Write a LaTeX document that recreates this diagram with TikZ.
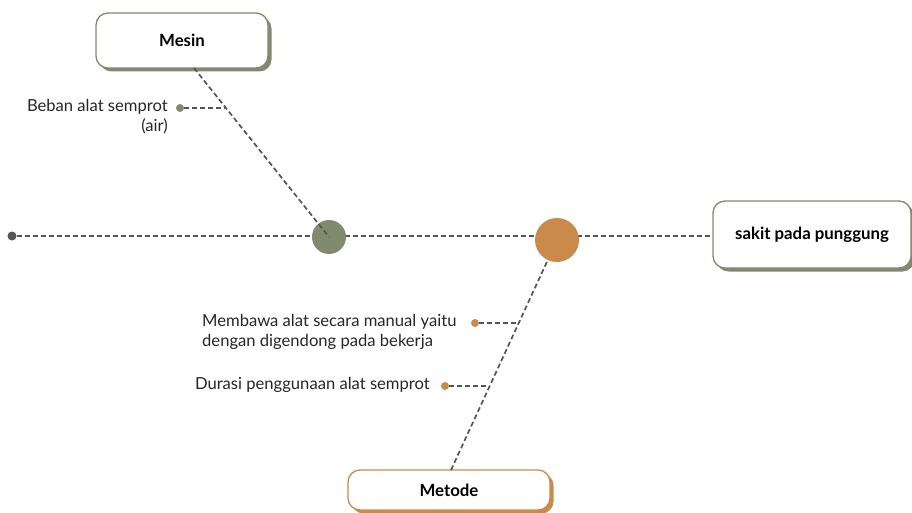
\documentclass[tikz,border=0pt]{standalone}
\usepackage{fontspec}
\setmainfont{Lato}
\usetikzlibrary{shadows,calc}

\definecolor{sage}{HTML}{7F8B6C}
\definecolor{clay}{HTML}{C98A4B}
\definecolor{ink}{HTML}{555555}

\begin{document}
\begin{tikzpicture}[x=1pt,y=-1pt,
    box/.style={draw=#1,line width=1.3pt,rounded corners=12pt,fill=white,
      drop shadow={shadow xshift=3.5pt,shadow yshift=-3.5pt,fill=#1,opacity=1},
      font=\bfseries\fontsize{16.8}{18}\selectfont,text=black},
    link/.style={ink,line width=1.7pt,dash pattern=on 5pt off 3pt},
    dot/.style={circle,fill=#1,inner sep=0pt,minimum size=8pt},
    lbl/.style={font=\fontsize{16.6}{20}\selectfont,text=black!85,inner sep=0pt}]
  \useasboundingbox (0,0) rectangle (912,513);

  % head and spine
  \node[box=sage,minimum width=198pt,minimum height=67pt] (effect) at (812,234.5) {sakit pada punggung};
  \node[dot=ink,minimum size=9pt] (tail) at (12,236) {};
  \draw[link] (tail) -- (tail -| effect.west);
  \node[circle,fill=sage,inner sep=0pt,minimum size=34pt] (mesinhub) at (329,237) {};
  \node[circle,fill=clay,inner sep=0pt,minimum size=44pt] (metodehub) at (557,240) {};

  % Mesin
  \node[box=sage,minimum width=172pt,minimum height=55pt] (mesin) at (182,40.5) {Mesin};
  \coordinate (mesinfoot) at (194,68);
  \draw[link] (mesinfoot) -- (mesinhub.center);
  \node[dot=sage] (beban) at (180,108) {};
  \coordinate (bebanjoin) at ($(mesinfoot)!0.227!(mesinhub.center)$);
  \draw[link] (beban) -- (bebanjoin |- beban);
  \node[lbl,anchor=east,align=right] at (168,117) {Beban alat semprot\\(air)};

  % Metode
  \node[box=clay,minimum width=202pt,minimum height=40pt] (metode) at (449,490) {Metode};
  \coordinate (metodetop) at (451,470);
  \draw[link] (metodetop) -- (metodehub);
  \node[dot=clay] (bawa) at (475,323) {};
  \node[dot=clay] (durasi) at (445,386) {};
  \draw[link] (bawa) -- (518,323);
  \draw[link] (durasi) -- (489,386);
  \node[lbl,anchor=west,align=left] at (202,332) {Membawa alat secara manual yaitu\\dengan digendong pada bekerja};
  \node[lbl,anchor=east] at (430,385) {Durasi penggunaan alat semprot};
\end{tikzpicture}
\end{document}
